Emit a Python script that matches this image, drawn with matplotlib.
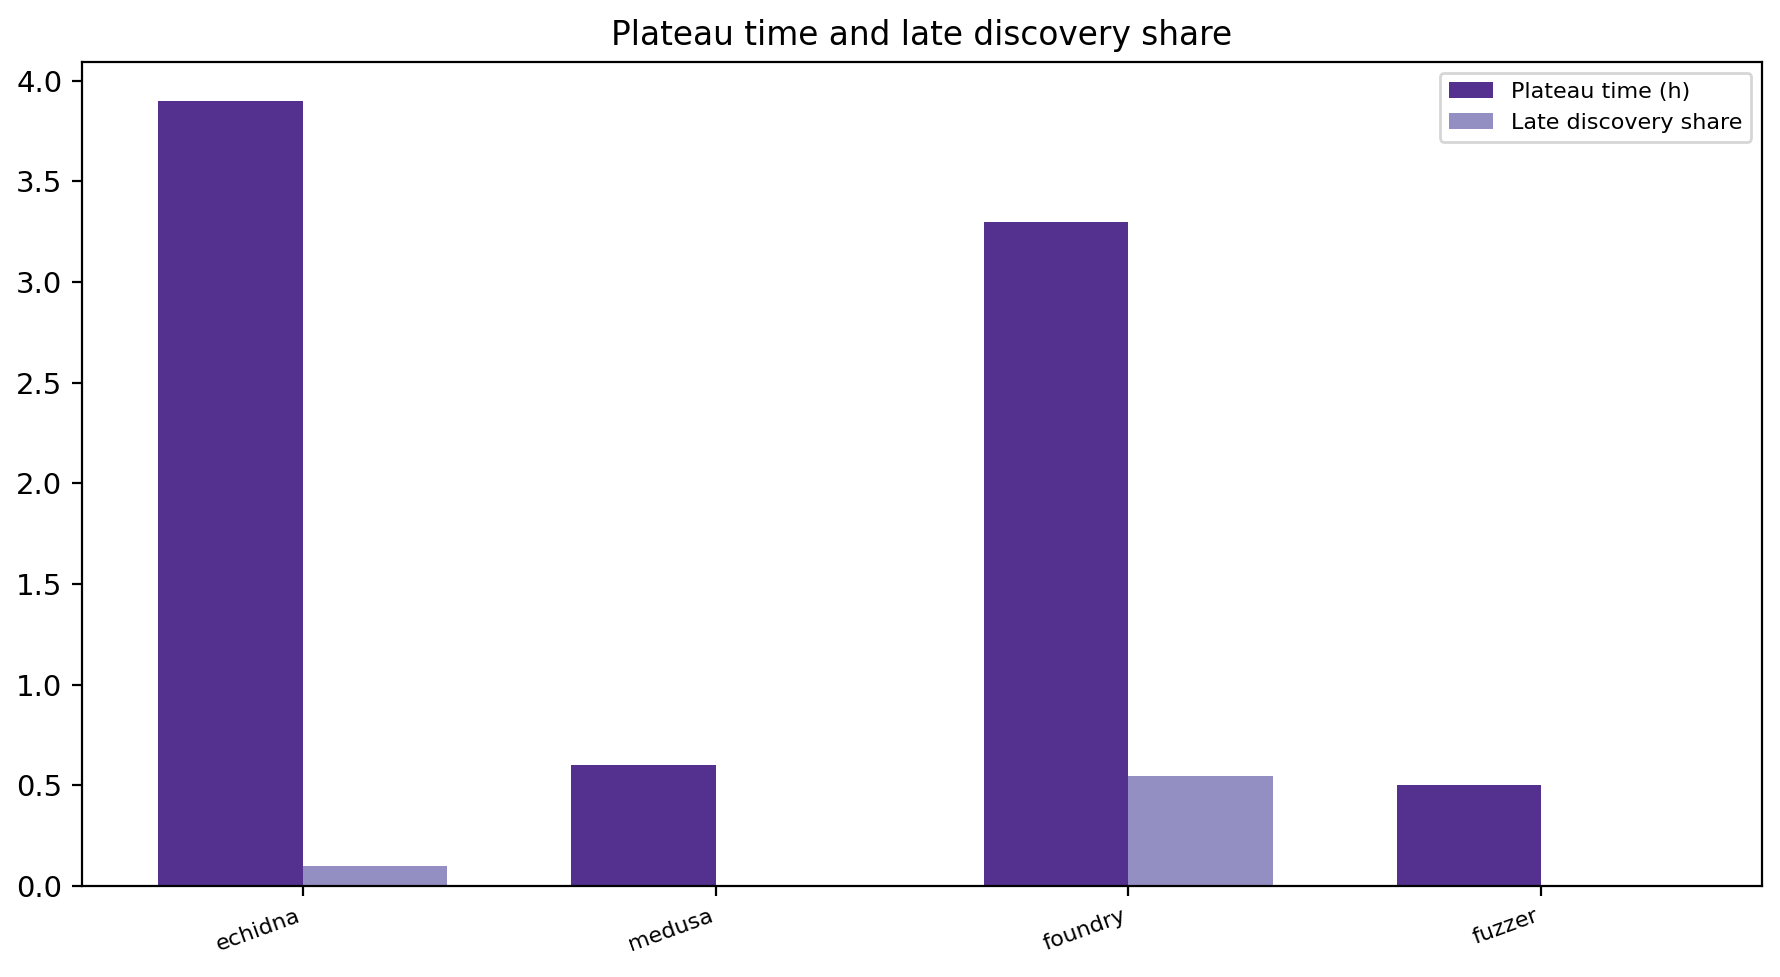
import numpy as np
import matplotlib
matplotlib.use("Agg")
import matplotlib.pyplot as plt

# chart data
tools = ["echidna", "medusa", "foundry", "fuzzer"]
plateau_hours = [3.9, 0.6, 3.3, 0.5]
late_share = [0.1, 0.0, 0.545, 0.0]

fig, ax = plt.subplots(figsize=(8.9, 4.885), dpi=200)

x = np.arange(len(tools))
width = 0.35

ax.bar(x - width / 2, plateau_hours, width, color="#54308F", label="Plateau time (h)")
ax.bar(x + width / 2, late_share, width, color="#938FC2", label="Late discovery share")

ax.set_xticks(x)
ax.set_xticklabels(tools, rotation=20, ha="right", fontsize=8)
ax.tick_params(axis="y", labelsize=10.5)
ax.set_title("Plateau time and late discovery share", fontsize=11.8)
ax.legend(fontsize=8, loc="upper right")

fig.subplots_adjust(left=0.046, right=0.99, top=0.937, bottom=0.093)
fig.savefig("out.png")
